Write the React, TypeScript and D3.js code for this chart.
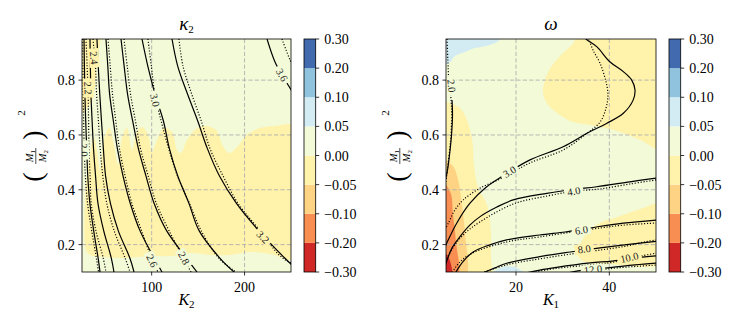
import React from 'react';
import * as d3 from 'd3';

type Pt = [number, number];

// colour levels shared by both panels
const levelColors = ['#cf2827', '#f98e52', '#fed484', '#fff2ab', '#f2fad7', '#d3ecf4', '#90c3dd', '#426aaf'];
const levelLabels = ['\u22120.30', '\u22120.20', '\u22120.10', '\u22120.05', '0.00', '0.05', '0.10', '0.20', '0.30'];

const massDomain = [0.1, 0.95];
const massTicks = [0.2, 0.4, 0.6, 0.8];
const massRows = [0.95, 0.85, 0.75, 0.65, 0.55, 0.45, 0.35, 0.25, 0.15, 0.1];

// ---- left panel: kappa_2 over K2 ----
const k2Domain = [25, 250];
const k2Ticks = [100, 200];
// K2 position of each contour (2.0 ... 3.2) at every row of massRows
const kappaSolidK2 = [
  [27.2, 27.6, 28.1, 29.0, 30.1, 31.2, 33.5, 37.6, 42.4, 44.4],
  [33.6, 34.0, 34.6, 35.9, 37.4, 39.6, 42.2, 48.4, 56.6, 59.4],
  [41.1, 42.5, 44.1, 46.0, 48.0, 50.4, 55.6, 64.1, 76.6, 81.0],
  [50.8, 52.8, 54.7, 58.8, 63.1, 69.2, 77.0, 87.5, 102.9, 111.1],
  [67.0, 70.4, 74.0, 79.6, 85.7, 93.9, 102.7, 116.2, 137.6, 148.8],
  [89.6, 95.9, 103.5, 112.7, 119.1, 128.1, 140.2, 151.2, 173.6, 188.6],
  [121.9, 128.1, 138.5, 149.7, 160.0, 173.0, 191.3, 215.5, 243.5, 259],
];
const kappaDottedK2 = [
  [25.8, 26.0, 26.3, 26.8, 27.4, 28.6, 31.0, 35.5, 40.5, 42.8],
  [29.3, 30.5, 31.6, 32.1, 32.5, 33.7, 34.9, 40.0, 47.9, 50.8],
  [36.8, 39.5, 40.7, 42.7, 44.6, 47.4, 51.7, 59.7, 71.5, 76.7],
  [53.0, 55.4, 57.8, 61.4, 65.3, 71.4, 78.7, 89.2, 99.9, 106.8],
  [70.2, 73.7, 77.2, 82.6, 88.0, 96.3, 105.1, 118.8, 134.5, 142.3],
  [96.0, 99.7, 103.3, 110.3, 118.3, 127.9, 140.7, 153.4, 172.5, 190.8],
  [129.4, 133.8, 143.0, 153.5, 162.8, 176.9, 193.0, 217.0, 241.4, 275],
];
const kappa36Solid: Pt[] = [[224.2, 0.95], [232.8, 0.866], [241, 0.815], [251, 0.76]];
const kappa36Dotted: Pt[] = [[240.3, 0.95], [249, 0.873], [255, 0.83]];
const kappaLabelText = ['2.4', '2.2', '2.0', '3.0', '2.6', '2.8', '3.2', '3.6'];
const kappaLabelPos: Pt[] = [
  [37.9, 0.881], [31.5, 0.771], [27.2, 0.545], [103.6, 0.727],
  [100.4, 0.141], [134.8, 0.151], [219.9, 0.228], [240.3, 0.819],
];
const kappaBand: Pt[] = [
  [29.3, 0.18], [28.2, 0.363], [30.4, 0.454], [33.6, 0.527], [37.9, 0.589], [41.1, 0.545],
  [44.4, 0.472], [48.7, 0.582], [54.1, 0.625], [59.4, 0.563], [63.8, 0.49], [68.1, 0.589],
  [73.4, 0.625], [78.8, 0.545], [84.2, 0.611], [89.6, 0.629], [96.0, 0.6], [100.4, 0.538],
  [105.7, 0.582], [113.3, 0.625], [121.9, 0.611], [127.3, 0.545], [131.6, 0.534], [138.0, 0.582],
  [147.7, 0.622], [158.5, 0.633], [169.3, 0.618], [176.8, 0.56], [183.2, 0.534], [191.9, 0.556],
  [202.6, 0.6], [216.6, 0.625], [232.8, 0.633], [256, 0.63], [256, 0.151], [227.4, 0.166],
  [205.9, 0.173], [184.3, 0.162], [162.8, 0.162], [141.3, 0.169], [119.7, 0.158], [98.2, 0.158],
  [71.3, 0.151], [49.8, 0.155], [33.6, 0.162],
];
const kappaCorner: Pt[] = [
  [23, 0.97], [43.5, 0.97], [41.1, 0.873], [39.0, 0.782], [35.8, 0.727], [30.4, 0.698], [26.1, 0.683], [23, 0.68],
];

// ---- right panel: omega over K1 ----
const k1Domain = [5, 50];
const k1Ticks = [20, 40];
const omegaSolid: Pt[][] = [
  [[6.29, 0.727], [6.39, 0.673], [6.18, 0.6], [5.75, 0.527], [5.32, 0.472], [4.9, 0.44]],
  [[4.5, 0.18], [5.15, 0.205], [7.29, 0.278], [10.14, 0.351], [13.72, 0.411], [16.94, 0.448], [23.0, 0.509],
    [30.1, 0.557], [35.2, 0.606], [39.4, 0.642], [43.0, 0.679], [45.1, 0.727], [45.5, 0.764],
    [44.8, 0.8], [43.0, 0.831], [40.1, 0.867], [37.3, 0.922], [35.0, 0.95], [34.2, 0.97]],
  [[4.8, 0.12], [5.1, 0.137], [6.3, 0.188], [8.0, 0.229], [10.1, 0.271], [12.3, 0.302], [15.9, 0.337],
    [19.4, 0.363], [26.6, 0.387], [32.2, 0.401], [37.3, 0.411], [44.4, 0.429], [50.5, 0.444]],
  [[6.8, 0.09], [8.6, 0.137], [10.9, 0.174], [14.4, 0.199], [18.0, 0.217], [25.1, 0.235], [30.5, 0.246],
    [34.0, 0.255], [37.5, 0.265], [43.0, 0.278], [50.5, 0.29]],
  [[12.0, 0.09], [15.5, 0.115], [18.0, 0.132], [25.1, 0.156], [31.6, 0.173], [38.0, 0.188], [43.7, 0.2], [50.5, 0.213]],
  [[20.5, 0.09], [25.1, 0.107], [28.7, 0.117], [35.9, 0.133], [40.6, 0.14], [47.6, 0.155], [50.5, 0.16]],
  [[29.5, 0.09], [33.3, 0.104], [40.6, 0.117], [45.5, 0.126], [50.5, 0.133]],
];
const omegaDotted: Pt[][] = [
  [[5.2, 0.96], [5.4, 0.873], [5.6, 0.8], [6.1, 0.727], [6.2, 0.654], [5.9, 0.563], [5.4, 0.49], [5.1, 0.443], [4.8, 0.42]],
  [[4.8, 0.255], [5.5, 0.278], [6.9, 0.326], [8.7, 0.363], [12.3, 0.406], [16.6, 0.439], [23.0, 0.498],
    [30.1, 0.545], [35.0, 0.603], [38.0, 0.647], [39.3, 0.698], [39.7, 0.746], [39.3, 0.793],
    [38.0, 0.862], [36.5, 0.91], [35.6, 0.95], [35.3, 0.97]],
  [[4.8, 0.14], [5.2, 0.151], [6.9, 0.199], [9.1, 0.242], [12.3, 0.283], [19.4, 0.348], [26.6, 0.377],
    [32.6, 0.395], [38.0, 0.403], [44.4, 0.421], [50.5, 0.437]],
  [[6.0, 0.09], [8.0, 0.137], [10.8, 0.17], [18.1, 0.21], [25.1, 0.228], [36.5, 0.257], [43.0, 0.271], [50.5, 0.279]],
  [[11.5, 0.09], [18.0, 0.126], [25.1, 0.148], [32.0, 0.166], [38.0, 0.18], [43.8, 0.195], [47.6, 0.21], [50.5, 0.218]],
  [[20.5, 0.09], [28.6, 0.113], [35.9, 0.126], [40.6, 0.135], [46.6, 0.158], [50.5, 0.17]],
  [[30.5, 0.09], [40.6, 0.113], [50.5, 0.126]],
];
const omegaLabelText = ['2.0', '3.0', '4.0', '6.0', '8.0', '10.0', '12.0'];
const omegaLabelPos: Pt[] = [
  [6.2, 0.779], [18.6, 0.466], [32.4, 0.395], [34.0, 0.253], [34.6, 0.184], [44.3, 0.153], [36.5, 0.109],
];
const omegaBlue: Pt[] = [
  [3, 0.97], [16.6, 0.97], [16.6, 0.95], [15.5, 0.935], [13.4, 0.924], [11.2, 0.917], [9.1, 0.903],
  [6.9, 0.888], [5.9, 0.866], [5, 0.859], [3, 0.855],
];
const omegaTopYellow: Pt[] = [
  [33.5, 0.97], [52, 0.97], [52, 0.545], [46.6, 0.582], [42.9, 0.607], [39.3, 0.625], [35.9, 0.636],
  [32.2, 0.647], [29.4, 0.673], [26.9, 0.709], [25.8, 0.753], [26.2, 0.8], [27.5, 0.848], [30.1, 0.899], [32.2, 0.932],
];
const omegaLeftYellow: Pt[] = [
  [3, 0.722], [6.3, 0.713], [8.0, 0.698], [9.5, 0.654], [10.6, 0.582], [11.0, 0.49], [11.9, 0.406],
  [13.8, 0.344], [14.6, 0.253], [14.6, 0.162], [14.4, 0.08], [3, 0.08],
];
const omegaLeftPale: Pt[] = [[3, 0.515], [6.3, 0.49], [7.6, 0.436], [8.4, 0.344], [9.1, 0.235], [9.1, 0.08], [3, 0.08]];
const omegaLeftOrange: Pt[] = [[3, 0.45], [5.9, 0.392], [6.5, 0.308], [7.1, 0.217], [7.4, 0.08], [3, 0.08]];
const omegaLeftRed: Pt[] = [[3, 0.2], [5.6, 0.151], [6.1, 0.08], [3, 0.08]];
const omegaLowYellow: Pt[] = [
  [52, 0.35], [46.6, 0.33], [42.3, 0.304], [38.0, 0.279], [35.4, 0.246], [33.7, 0.199], [33.3, 0.158],
  [34.8, 0.137], [40.1, 0.129], [52, 0.137],
];
const omegaBottomBlue: Pt[] = [[14.4, 0.08], [16.6, 0.115], [19.8, 0.118], [22.4, 0.08]];

const serif = '"Liberation Serif", "DejaVu Serif", serif';
const TOP = 39;
const BOTTOM = 272;

type Fill = { level: number; pts: Pt[] };

function MassLabel({ cx, cy }: { cx: number; cy: number }) {
  return (
    <g transform={`translate(${cx},${cy}) rotate(-90)`}>
      <text x={-31} y={8} fontSize={28} textAnchor="middle">(</text>
      <text x={-10} y={-1.5} fontSize={10.5} textAnchor="middle">
        <tspan fontStyle="italic">M</tspan><tspan fontSize={7} dy={2}>1</tspan>
      </text>
      <line x1={-18} x2={-2} y1={1.8} y2={1.8} stroke="#000" strokeWidth={0.7} />
      <text x={-10} y={11.5} fontSize={10.5} textAnchor="middle">
        <tspan fontStyle="italic">M</tspan><tspan fontSize={7} dy={2}>2</tspan>
      </text>
      <text x={11} y={8} fontSize={28} textAnchor="middle">)</text>
      <text x={33} y={-9} fontSize={11} textAnchor="middle">2</text>
    </g>
  );
}

interface PanelProps {
  left: number;
  right: number;
  xDomain: number[];
  xTicks: number[];
  xSub: string;
  title: string;
  titleSub?: string;
  fills: Fill[];
  solids: Pt[][];
  dotted: Pt[][];
  labelText: string[];
  labelPos: Pt[];
}

function Panel({ left, right, xDomain, xTicks, xSub, title, titleSub, fills, solids, dotted, labelText, labelPos }: PanelProps) {
  const x = d3.scaleLinear().domain(xDomain).range([left, right]);
  const y = d3.scaleLinear().domain(massDomain).range([BOTTOM, TOP]);
  const path = d3.line<Pt>().x(d => x(d[0])).y(d => y(d[1])).curve(d3.curveCatmullRom.alpha(0.5));
  const region = d3.line<Pt>().x(d => x(d[0])).y(d => y(d[1])).curve(d3.curveCatmullRomClosed.alpha(0.5));
  const clipId = 'clip' + left;
  const cbLeft = right + 13;
  const cbW = 11.7;
  const cb = d3.scaleLinear().domain([0, levelColors.length]).range([BOTTOM, TOP]);

  const allLines = solids.concat(dotted);
  const labels = labelText.map((t, i) => {
    const px = x(labelPos[i][0]);
    const py = y(labelPos[i][1]);
    // follow the direction of the nearest contour
    let best = Infinity;
    let ang = 0;
    allLines.forEach(ln => {
      for (let k = 0; k < ln.length - 1; k++) {
        const ax = x(ln[k][0]), ay = y(ln[k][1]);
        const dx = x(ln[k + 1][0]) - ax, dy = y(ln[k + 1][1]) - ay;
        const len2 = dx * dx + dy * dy || 1;
        const tt = Math.max(0, Math.min(1, ((px - ax) * dx + (py - ay) * dy) / len2));
        const dist = Math.hypot(ax + tt * dx - px, ay + tt * dy - py);
        if (dist < best) {
          best = dist;
          ang = (Math.atan2(dy, dx) * 180) / Math.PI;
        }
      }
    });
    if (ang > 90) ang -= 180;
    if (ang < -90) ang += 180;
    let lvl = 4;
    fills.forEach(f => {
      if (d3.polygonContains(f.pts.map(q => [x(q[0]), y(q[1])] as [number, number]), [px, py])) lvl = f.level;
    });
    return { t, px, py, ang, bg: levelColors[lvl] };
  });

  const mid = (left + right) / 2;

  return (
    <g>
      <defs>
        <clipPath id={clipId}>
          <rect x={left} y={TOP} width={right - left} height={BOTTOM - TOP} />
        </clipPath>
      </defs>
      <g clipPath={`url(#${clipId})`}>
        <rect x={left} y={TOP} width={right - left} height={BOTTOM - TOP} fill={levelColors[4]} />
        {fills.map((f, i) => (
          <path key={i} d={region(f.pts) || ''} fill={levelColors[f.level]} />
        ))}
        {xTicks.map(v => (
          <line key={'gx' + v} x1={x(v)} x2={x(v)} y1={TOP} y2={BOTTOM} stroke="#b0b0b0" strokeWidth={0.9} strokeDasharray="4.2,2.2" />
        ))}
        {massTicks.map(v => (
          <line key={'gy' + v} x1={left} x2={right} y1={y(v)} y2={y(v)} stroke="#b0b0b0" strokeWidth={0.9} strokeDasharray="4.2,2.2" />
        ))}
        {solids.map((l, i) => (
          <path key={'s' + i} d={path(l) || ''} fill="none" stroke="#000" strokeWidth={1.2} />
        ))}
        {dotted.map((l, i) => (
          <path key={'d' + i} d={path(l) || ''} fill="none" stroke="#000" strokeWidth={1.2} strokeDasharray="1.1,1.8" />
        ))}
        {labels.map((l, i) => (
          <g key={'l' + i} transform={`translate(${l.px},${l.py}) rotate(${l.ang})`}>
            <rect x={-(l.t.length * 5.4 + 3) / 2} y={-5} width={l.t.length * 5.4 + 3} height={10} fill={l.bg} />
            <text textAnchor="middle" dy="0.35em" fontSize={10.5} fill="#222">{l.t}</text>
          </g>
        ))}
      </g>
      <rect x={left} y={TOP} width={right - left} height={BOTTOM - TOP} fill="none" stroke="#000" strokeWidth={0.8} />
      {xTicks.map(v => (
        <g key={'tx' + v}>
          <line x1={x(v)} x2={x(v)} y1={BOTTOM} y2={BOTTOM + 3.5} stroke="#000" strokeWidth={0.8} />
          <text x={x(v)} y={292} textAnchor="middle" fontSize={14}>{v}</text>
        </g>
      ))}
      {massTicks.map(v => (
        <g key={'ty' + v}>
          <line x1={left - 3.5} x2={left} y1={y(v)} y2={y(v)} stroke="#000" strokeWidth={0.8} />
          <text x={left - 7} y={y(v) + 5} textAnchor="end" fontSize={14}>{v.toFixed(1)}</text>
        </g>
      ))}
      <text x={mid} y={30} textAnchor="middle" fontSize={19}>
        <tspan fontStyle="italic">{title}</tspan>
        {titleSub ? <tspan fontSize={11} dy={3}>{titleSub}</tspan> : null}
      </text>
      <text x={mid} y={305} textAnchor="middle" fontSize={16}>
        <tspan fontStyle="italic">K</tspan>
        <tspan fontSize={11} dy={3}>{xSub}</tspan>
      </text>
      <MassLabel cx={left - 48} cy={146} />
      {levelColors.map((c, i) => (
        <rect key={'cb' + i} x={cbLeft} y={cb(i + 1)} width={cbW} height={cb(i) - cb(i + 1)} fill={c} />
      ))}
      <rect x={cbLeft} y={TOP} width={cbW} height={BOTTOM - TOP} fill="none" stroke="#000" strokeWidth={0.8} />
      {levelLabels.map((t, i) => (
        <g key={'cl' + i}>
          <line x1={cbLeft + cbW} x2={cbLeft + cbW + 3.5} y1={cb(i)} y2={cb(i)} stroke="#000" strokeWidth={0.8} />
          <text x={cbLeft + cbW + 8.5} y={cb(i) + 5} fontSize={14}>{t}</text>
        </g>
      ))}
    </g>
  );
}

export default function App() {
  const kappaSolids: Pt[][] = kappaSolidK2.map(row => row.map((k, j) => [k, massRows[j]] as Pt)).concat([kappa36Solid]);
  const kappaDots: Pt[][] = kappaDottedK2.map(row => row.map((k, j) => [k, massRows[j]] as Pt)).concat([kappa36Dotted]);
  const kappaFills: Fill[] = [
    { level: 3, pts: kappaBand },
    { level: 3, pts: kappaCorner },
  ];
  const omegaFills: Fill[] = [
    { level: 5, pts: omegaBlue },
    { level: 3, pts: omegaTopYellow },
    { level: 3, pts: omegaLeftYellow },
    { level: 2, pts: omegaLeftPale },
    { level: 1, pts: omegaLeftOrange },
    { level: 0, pts: omegaLeftRed },
    { level: 3, pts: omegaLowYellow },
    { level: 5, pts: omegaBottomBlue },
  ];
  return (
    <svg width={747} height={332} style={{ position: 'absolute', left: 0, top: 0 }} fontFamily={serif}>
      <rect width={747} height={332} fill="#fff" />
      <Panel
        left={82} right={291} xDomain={k2Domain} xTicks={k2Ticks} xSub="2"
        title={'\u03ba'} titleSub="2" fills={kappaFills} solids={kappaSolids} dotted={kappaDots}
        labelText={kappaLabelText} labelPos={kappaLabelPos}
      />
      <Panel
        left={446} right={656} xDomain={k1Domain} xTicks={k1Ticks} xSub="1"
        title={'\u03c9'} fills={omegaFills} solids={omegaSolid} dotted={omegaDotted}
        labelText={omegaLabelText} labelPos={omegaLabelPos}
      />
    </svg>
  );
}
